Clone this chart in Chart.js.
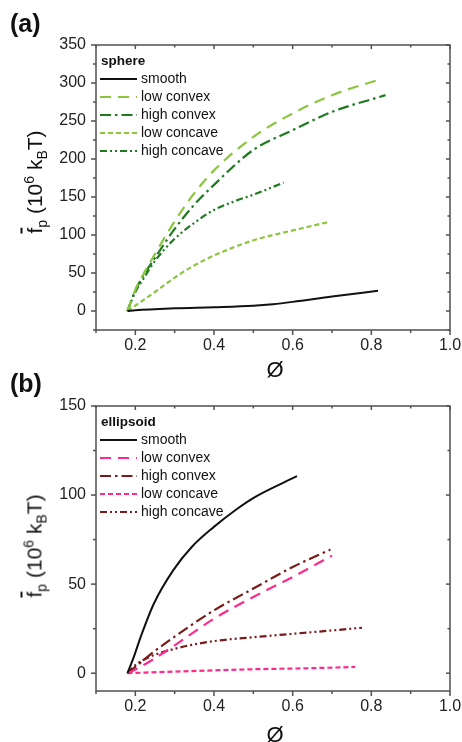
<!DOCTYPE html>
<html>
<head>
<meta charset="utf-8">
<script src="https://cdn.jsdelivr.net/npm/chart.js@4.4.0/dist/chart.umd.min.js"></script>
<style>
html, body { margin: 0; padding: 0; background: #fff; }
#wrap { position: relative; width: 462px; height: 742px; overflow: hidden; font-family: "Liberation Sans", Arial, sans-serif; color: #111; }
canvas { position: absolute; left: 0; }
.panel { position: absolute; left: 10px; font-weight: bold; font-size: 25px; line-height: 1; }
.xt { position: absolute; font-size: 22px; line-height: 1; transform: translateX(-50%); }
.yt { position: absolute; font-size: 21px; line-height: 1; white-space: nowrap; transform: translate(-50%, -50%) rotate(-90deg); }
.yt sub, .yt sup { font-size: 14px; line-height: 0; }
.ov { text-decoration: overline; }
</style>
</head>
<body>
<div id="wrap">
    <canvas id="chartA" width="462" height="370" style="top:0"></canvas>
    <canvas id="chartB" width="462" height="372" style="top:370px"></canvas>
    <div class="panel" style="top:11px">(a)</div>
    <div class="panel" style="top:371px">(b)</div>
    <div class="xt" style="left:275px; top:359px">Ø</div>
    <div class="xt" style="left:275px; top:724px">Ø</div>
    <div class="yt" style="left:34px; top:182px"><span class="ov">f</span><sub>p</sub> (10<sup>6</sup> k<sub>B</sub>T)</div>
    <div class="yt" style="left:34px; top:546px"><span class="ov">f</span><sub>p</sub> (10<sup>6</sup> k<sub>B</sub>T)</div>
</div>
<script>
const seriesNames = ['smooth', 'low convex', 'high convex', 'low concave', 'high concave'];

// (a) sphere
const phiSmoothA = [0.18, 0.2, 0.3, 0.4, 0.5, 0.55, 0.6, 0.7, 0.817];
const fpSmoothA = [0, 1, 3.5, 5, 7, 9, 12, 19, 26.5];
const phiLowVexA = [0.18, 0.2, 0.22, 0.25, 0.3, 0.35, 0.4, 0.5, 0.6, 0.7, 0.823];
const fpLowVexA = [0, 28, 48, 75, 118, 155, 185, 229, 260, 284, 305];
const phiHighVexA = [0.18, 0.2, 0.22, 0.25, 0.3, 0.35, 0.4, 0.5, 0.6, 0.7, 0.836];
const fpHighVexA = [0, 27, 46, 70, 108, 140, 166, 212, 238, 262, 284];
const phiLowCaveA = [0.18, 0.2, 0.25, 0.3, 0.35, 0.4, 0.5, 0.6, 0.69];
const fpLowCaveA = [0, 7, 25, 44, 60, 73, 93, 106, 117];
const phiHighCaveA = [0.18, 0.2, 0.22, 0.25, 0.3, 0.35, 0.4, 0.45, 0.5, 0.577];
const fpHighCaveA = [0, 25, 42, 66, 95, 116, 133, 144, 153, 169];

// (b) ellipsoid
const phiSmoothB = [0.18, 0.196, 0.213, 0.247, 0.297, 0.344, 0.399, 0.454, 0.505, 0.611];
const fpSmoothB = [0, 9, 20, 39, 58, 71, 82, 91.5, 99, 110.6];
const phiLowVexB = [0.18, 0.2, 0.247, 0.3, 0.4, 0.5, 0.6, 0.7];
const fpLowVexB = [0, 2, 8, 15.6, 30.6, 42.8, 54, 66];
const phiHighVexB = [0.18, 0.2, 0.247, 0.3, 0.4, 0.5, 0.6, 0.696];
const fpHighVexB = [0, 3.5, 12, 20.5, 35.3, 47.5, 59.6, 69.4];
const phiLowCaveB = [0.18, 0.3, 0.4, 0.5, 0.643, 0.759];
const fpLowCaveB = [0, 0.9, 1.6, 2.2, 2.8, 3.5];
const phiHighCaveB = [0.18, 0.2, 0.23, 0.3, 0.4, 0.5, 0.6, 0.7, 0.776];
const fpHighCaveB = [0, 4.5, 8.5, 13.7, 18, 20.2, 22.1, 24, 25.5];

const FONT = '"Liberation Sans", Arial, sans-serif';
const AXIS = '#505050';

function pts(xs, ys) {
    return xs.map((v, i) => ({ x: v, y: ys[i] }));
}

function line(ctx, x1, y1, x2, y2) {
    ctx.beginPath();
    ctx.moveTo(x1, y1);
    ctx.lineTo(x2, y2);
    ctx.stroke();
}

function onStep(v, step) {
    const r = v / step;
    return Math.abs(r - Math.round(r)) < 1e-6;
}

// box round the plot, with major/minor ticks on all four sides
const framePlugin = {
    id: 'frame',
    afterDraw(chart, args, opts) {
        const { ctx, chartArea: a, scales: { x, y } } = chart;
        ctx.save();
        ctx.strokeStyle = AXIS;
        ctx.lineWidth = 1.5;
        ctx.strokeRect(a.left, a.top, a.right - a.left, a.bottom - a.top);
        x.ticks.forEach(t => {
            if (!onStep(t.value, opts.xMinor)) return;
            const major = onStep(t.value, opts.xMajor);
            const px = x.getPixelForValue(t.value);
            line(ctx, px, a.bottom, px, a.bottom + (major ? 5 : 3));
            line(ctx, px, a.top, px, a.top + (major ? 4 : 2.5));
        });
        y.ticks.forEach(t => {
            if (!onStep(t.value, opts.yMinor)) return;
            const major = onStep(t.value, opts.yMajor);
            const py = y.getPixelForValue(t.value);
            line(ctx, a.left, py, a.left - (major ? 5 : 3), py);
            line(ctx, a.right, py, a.right - (major ? 4 : 2.5), py);
        });
        ctx.restore();
    }
};

// legend drawn inside the plot, top left
const legendPlugin = {
    id: 'inLegend',
    afterDraw(chart, args, opts) {
        const { ctx, chartArea: a } = chart;
        ctx.save();
        ctx.fillStyle = '#111';
        ctx.textBaseline = 'middle';
        ctx.font = 'bold 13.5px ' + FONT;
        ctx.fillText(opts.title, a.left + 5, a.top + 16);
        chart.data.datasets.forEach((ds, i) => {
            const yy = a.top + 34 + i * 18;
            ctx.strokeStyle = ds.borderColor;
            ctx.lineWidth = ds.borderWidth;
            ctx.setLineDash(ds.borderDash || []);
            line(ctx, a.left + 4, yy, a.left + 41, yy);
            ctx.setLineDash([]);
            ctx.font = '14px ' + FONT;
            ctx.fillText(ds.label, a.left + 45, yy);
        });
        ctx.restore();
    }
};

const dashes = [[], [11, 7], [11, 4, 2.5, 4], [5, 3], [7, 3, 2, 3, 2, 3]];

function makeDatasets(series, colors) {
    return series.map((s, i) => ({
        label: seriesNames[i],
        data: pts(s[0], s[1]),
        borderColor: colors[i],
        borderWidth: i === 0 ? 2 : 2.2,
        borderDash: dashes[i],
        fill: false
    }));
}

function makeChart(id, datasets, cfg) {
    return new Chart(document.getElementById(id), {
        type: 'line',
        data: { datasets },
        options: {
            responsive: false,
            animation: false,
            layout: { padding: { left: 0, right: 12, top: cfg.top, bottom: 0 } },
            elements: {
                point: { radius: 0 },
                line: { cubicInterpolationMode: 'monotone' }
            },
            plugins: {
                legend: { display: false },
                tooltip: { enabled: false },
                inLegend: { title: cfg.title },
                frame: { xMajor: 0.2, xMinor: 0.1, yMajor: 50, yMinor: 25 }
            },
            scales: {
                x: {
                    type: 'linear',
                    min: 0.1,
                    max: 1.0,
                    grid: { display: false, drawTicks: false },
                    border: { display: false },
                    ticks: {
                        stepSize: 0.1,
                        includeBounds: false,
                        padding: 6,
                        color: '#222',
                        maxRotation: 0,
                        autoSkip: false,
                        font: { family: FONT, size: 16 },
                        callback: v => (v >= 0.19 && onStep(v, 0.2)) ? v.toFixed(1) : ''
                    },
                    afterFit: s => { s.height = cfg.xh; s.paddingLeft = 0; s.paddingRight = 0; }
                },
                y: {
                    type: 'linear',
                    min: cfg.ymin,
                    max: cfg.ymax,
                    grid: { display: false, drawTicks: false },
                    border: { display: false },
                    ticks: {
                        stepSize: 25,
                        includeBounds: false,
                        padding: 10,
                        color: '#222',
                        autoSkip: false,
                        font: { family: FONT, size: 16 },
                        callback: v => (v >= 0 && onStep(v, 50)) ? String(v) : ''
                    },
                    afterFit: s => { s.width = 96; }
                }
            }
        },
        plugins: [framePlugin, legendPlugin]
    });
}

const greens = ['#111111', '#8cc63f', '#1e7b1e', '#8cc63f', '#1e7b1e'];
const reds = ['#111111', '#ff2a8a', '#7a1a1a', '#ff2a8a', '#7a1a1a'];

makeChart('chartA', makeDatasets([
    [phiSmoothA, fpSmoothA],
    [phiLowVexA, fpLowVexA],
    [phiHighVexA, fpHighVexA],
    [phiLowCaveA, fpLowCaveA],
    [phiHighCaveA, fpHighCaveA]
], greens), { top: 45, xh: 40, ymin: -25, ymax: 350, title: 'sphere' });

makeChart('chartB', makeDatasets([
    [phiSmoothB, fpSmoothB],
    [phiLowVexB, fpLowVexB],
    [phiHighVexB, fpHighVexB],
    [phiLowCaveB, fpLowCaveB],
    [phiHighCaveB, fpHighCaveB]
], reds), { top: 36, xh: 51, ymin: -10, ymax: 150, title: 'ellipsoid' });
</script>
</body>
</html>
